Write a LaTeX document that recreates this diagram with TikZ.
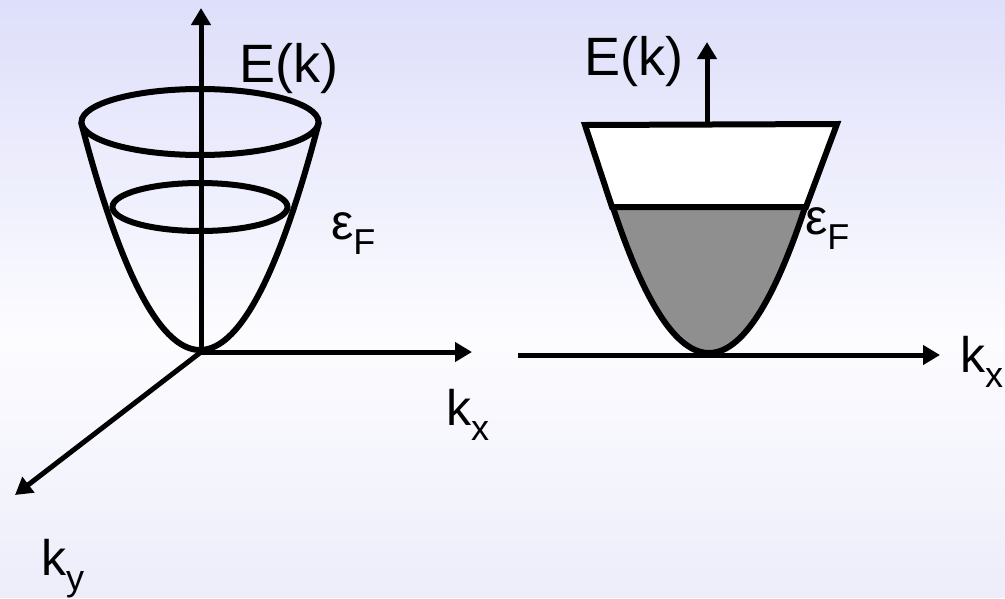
\documentclass[tikz,border=0pt]{standalone}
\usepackage{fontspec}
\setmainfont{Liberation Sans}
\usetikzlibrary{arrows.meta}
\definecolor{bgtop}{RGB}{222,223,250}
\definecolor{bgmid}{RGB}{252,252,255}
\definecolor{bgbot}{RGB}{237,237,250}
\definecolor{fillgray}{RGB}{143,143,143}
\newcommand\subtxt[1]{\raisebox{-15pt}{\fontsize{36}{40}\selectfont #1}}
\begin{document}
\begin{tikzpicture}[x=1pt,y=-1pt,
  axis/.style={line width=5pt,-{Triangle[length=17pt,width=19pt]}},
  curve/.style={line width=6pt},
  lbl/.style={anchor=base west,inner sep=0pt,font=\fontsize{50}{56}\selectfont},
  elbl/.style={lbl,font=\fontsize{54}{60}\selectfont}]
% background (vertical gradient drawn as strips)
\foreach \i in {0,...,33} {
  \pgfmathsetmacro\p{100-100*\i/33}
  \fill[bgtop!\p!bgmid] (0,{\i*10}) rectangle (1005,{\i*10+11});
}
\foreach \i in {34,...,59} {
  \pgfmathsetmacro\p{100*(\i-34)/25}
  \fill[bgbot!\p!bgmid] (0,{\i*10}) rectangle (1005,{min(\i*10+11,598)});
}
\useasboundingbox (0,0) rectangle (1005,598);
% ---------- left diagram ----------
\coordinate (O1) at (201,352);
\coordinate (Et1) at (201,8);
\coordinate (kxt1) at (472,352);
\coordinate (kyt1) at (15,495);
\draw[curve] plot[domain=-119:119,samples=80,smooth] ({200+\x},{350-0.0161*\x*\x});
\draw[curve] (200,122) ellipse [x radius=118.5,y radius=33];
\draw[curve] (200,207) ellipse [x radius=87.5,y radius=24];
\draw[axis] (O1) -- (Et1);
\draw[axis] (O1) -- (kxt1);
\draw[axis] (O1) -- (kyt1);
\node[elbl] (E1) at (239,82) {E(k)};
\node[lbl] (eF1) at (331,239) {ε\subtxt{F}};
\node[lbl] (kx1) at (446,425) {k\subtxt{x}};
\node[lbl] (ky1) at (41,575) {k\subtxt{y}};
% ---------- right diagram ----------
\coordinate (kxs2) at (518,355);
\coordinate (kxt2) at (940,355);
\coordinate (Es2) at (707,124);
\coordinate (Et2) at (707,42);
\fill[fillgray] plot[domain=-96:96,samples=60] ({709+\x},{353-0.0158*\x*\x}) -- cycle;
\draw[curve,fill=white,line join=miter] (585,125) -- (837,124) -- (806,207) -- (612,207) -- cycle;
\draw[curve] plot[domain=-96:96,samples=60,smooth] ({709+\x},{353-0.0158*\x*\x});
\draw[axis] (kxs2) -- (kxt2);
\draw[axis] (Es2) -- (Et2);
\node[elbl] (E2) at (584,75) {E(k)};
\node[lbl] (eF2) at (805,234) {ε\subtxt{F}};
\node[lbl] (kx2) at (960,372) {k\subtxt{x}};
\end{tikzpicture}
\end{document}
